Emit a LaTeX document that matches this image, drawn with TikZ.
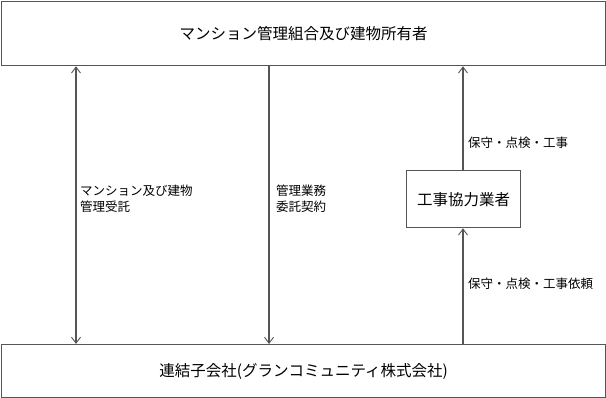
\documentclass[tikz,border=0pt]{standalone}
\usepackage{fontspec}
\setmainfont{Noto Sans CJK JP}
\usetikzlibrary{arrows.meta}
\definecolor{lc}{HTML}{555555}
\tikzset{
  bigbox/.style={draw=lc, line width=1.3pt, fill=white},
  conn/.style={draw=lc, line width=1.3pt},
  tip/.style={-{Straight Barb[length=6pt,width=9pt,line width=0.9pt]}},
  lbl/.style={font=\fontsize{12.5}{16}\selectfont, anchor=west, align=left, inner sep=0pt}
}
\begin{document}
\begin{tikzpicture}[x=1pt,y=-1pt]
\useasboundingbox (0,0) rectangle (606,398);
\fill[white] (0,0) rectangle (606,398);
\node[bigbox, minimum width=604pt, minimum height=64pt, anchor=north west, font=\fontsize{15.5}{18}\selectfont] (top) at (1,1) {マンション管理組合及び建物所有者};
\node[bigbox, minimum width=604pt, minimum height=53pt, anchor=north west, font=\fontsize{15.5}{18}\selectfont] (bot) at (1,344) {連結子会社(グランコミュニティ株式会社)};
\node[bigbox, minimum width=114pt, minimum height=57pt, anchor=north west, font=\fontsize{15.5}{18}\selectfont] (mid) at (406,170) {工事協力業者};
\coordinate (lt) at (76,65);
\coordinate (lb) at (76,344);
\coordinate (mt) at (269,65);
\coordinate (mb) at (269,344);
\draw[conn, {Straight Barb[length=6pt,width=9pt,line width=0.9pt]}-{Straight Barb[length=6pt,width=9pt,line width=0.9pt]}] (top.south -| lt) -- (bot.north -| lb);
\draw[conn, tip] (top.south -| mt) -- (bot.north -| mb);
\draw[conn, tip] (bot.north -| 463,0) -- (mid.south -| 463,0);
\draw[conn, tip] (mid.north -| 463,0) -- (top.south -| 463,0);
\node[lbl] (l1) at (80,199) {マンション及び建物\\管理受託};
\node[lbl] (l2) at (276,199) {管理業務\\委託契約};
\node[lbl] (l3) at (468,143) {保守・点検・工事};
\node[lbl] (l4) at (468,284) {保守・点検・工事依頼};
\end{tikzpicture}
\end{document}
